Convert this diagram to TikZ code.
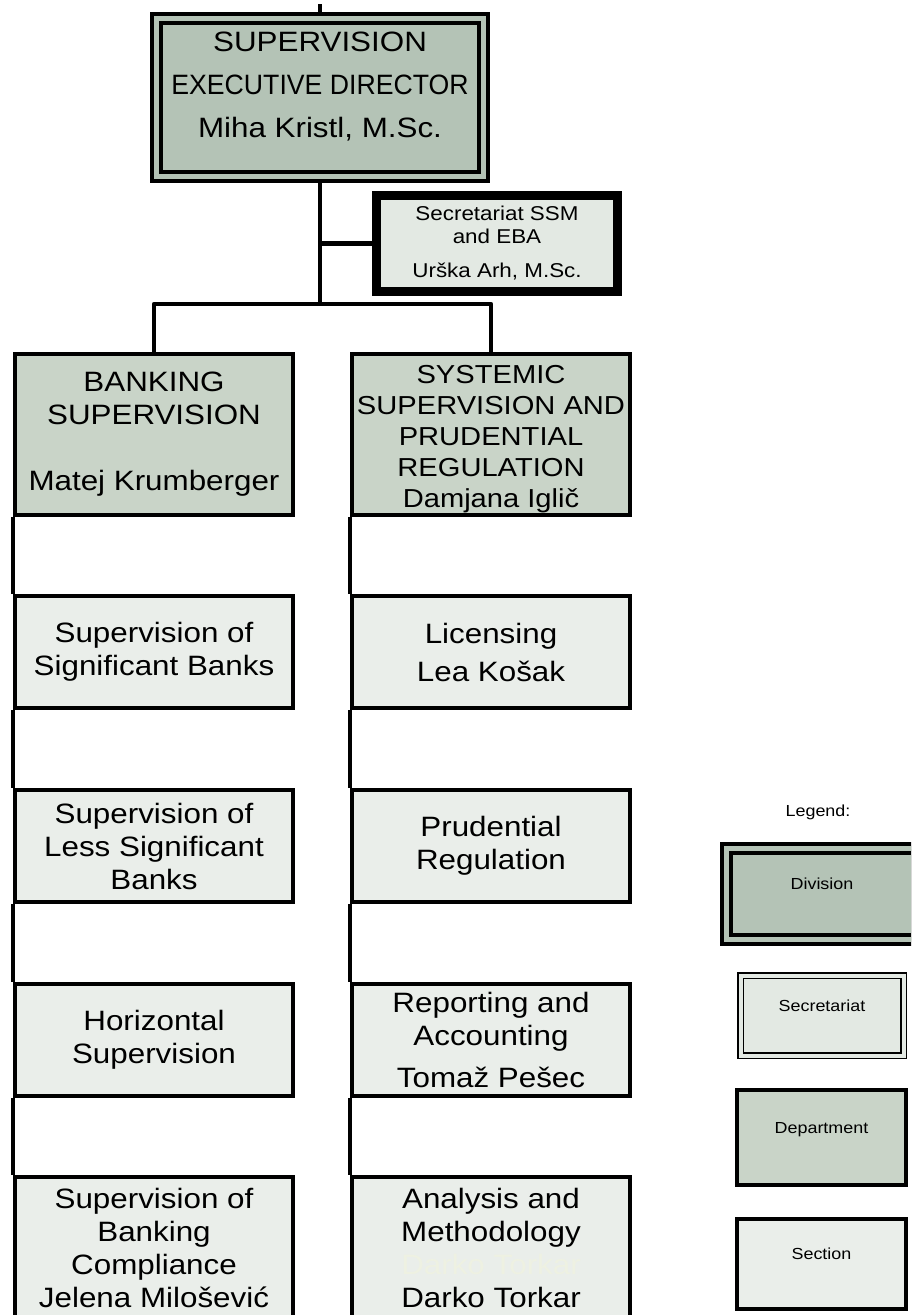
\documentclass[tikz,border=0pt]{standalone}
\usepackage{fontspec}
\setmainfont[FakeStretch=1.12]{Liberation Sans}
\usepackage{graphicx}
\usetikzlibrary{backgrounds}
\definecolor{divgray}{RGB}{180,195,182}
\definecolor{deptgray}{RGB}{201,212,200}
\definecolor{sectgray}{RGB}{234,238,234}
\definecolor{secrgray}{RGB}{227,233,227}
\definecolor{ghostgray}{RGB}{238,241,226}
\newcommand{\dirfont}{\fontsize{28}{43}\selectfont}
\newcommand{\boxfont}{\fontsize{28}{33}\selectfont}
\newcommand{\sysfont}{\fontsize{26}{31}\selectfont}
\newcommand{\secfont}{\fontsize{20}{23}\selectfont}
\newcommand{\legfont}{\fontsize{16}{19}\selectfont}
\tikzset{
    conn/.style={line width=4.5pt, line join=round},
    box/.style={rectangle, draw, line width=4pt, align=center, inner sep=2pt},
    divbox/.style={box, double=divgray, double distance=5pt, fill=divgray},
    secbox/.style={box, line width=9pt, fill=secrgray},
    deptbox/.style={box, fill=deptgray},
    sectbox/.style={box, fill=sectgray},
    colbox/.style={minimum width=278pt, minimum height=112pt, font=\boxfont},
    legbox/.style={font=\legfont, text depth=20pt}
}

\begin{document}
\begin{tikzpicture}[x=1pt,y=-1pt]
            \useasboundingbox (0,0) rectangle (911,1315);
            \clip (0,0) rectangle (911,1315);
            \coordinate (top) at (320,4);
            \coordinate (bus) at (320,304);
            \node[divbox, minimum width=327pt, minimum height=158pt,
                  label={[font=\dirfont, align=center, yshift=11pt]center:{SUPERVISION\\\scalebox{0.85}[1]{EXECUTIVE DIRECTOR}\\Miha Kristl, M.Sc.}}]
                 (dir) at (320,97.5) {};
            \node[secbox, minimum width=241pt, minimum height=96pt, font=\secfont] (sec) at (497,243.5)
                 {Secretariat SSM\\and EBA\\[11pt]Urška Arh, M.Sc.};
            \node[deptbox, colbox, minimum height=161pt] (bank) at (154,434.5) {BANKING\\SUPERVISION\\[33pt]Matej Krumberger};
            \node[deptbox, colbox, minimum height=161pt,
                  label={[font=\sysfont, align=center, yshift=-5pt]center:{SYSTEMIC\\SUPERVISION AND\\PRUDENTIAL\\REGULATION\\Damjana Iglič}}]
                 (sys) at (491,434.5) {};
            \node[sectbox, colbox] (sig)  at (154,652)  {Supervision of\\Significant Banks};
            \node[sectbox, colbox] (lsig) at (154,846)  {Supervision of\\Less Significant\\Banks};
            \node[sectbox, colbox] (hor)  at (154,1040) {Horizontal\\Supervision};
            \node[sectbox, colbox, minimum height=141pt] (cmp) at (154,1247.5) {Supervision of\\Banking\\Compliance\\Jelena Milošević};
            \node[sectbox, colbox] (lic)  at (491,652)  {Licensing\\[5pt]Lea Košak};
            \node[sectbox, colbox] (prud) at (491,846)  {Prudential\\Regulation};
            \node[sectbox, colbox] (rep)  at (491,1040) {Reporting and\\Accounting\\[9pt]Tomaž Pešec};
            \node[sectbox, colbox, minimum height=141pt] (ana) at (491,1247.5)
                 {Analysis and\\Methodology\\\textcolor{ghostgray}{Darko Torkar}\\Darko Torkar};
            \node[font=\legfont] (lgtitle) at (818,812) {Legend:};
            \node[divbox, legbox, minimum width=191pt, minimum height=91pt] (lgdiv) at (822,894) {Division};
            \node[box, legbox, line width=1.5pt, double=secrgray, double distance=4pt, fill=secrgray,
                  minimum width=163pt, minimum height=80pt] (lgsec) at (822,1015.5) {Secretariat};
            \node[deptbox, legbox, minimum width=169pt, minimum height=95pt] (lgdep) at (821.5,1137.5) {Department};
            \node[sectbox, legbox, minimum width=169pt, minimum height=90pt] (lgsect) at (821.5,1264) {Section};
        \begin{scope}[on background layer]
            \draw[conn] (top) -- (dir.north);
            \draw[conn] (dir.south) -- (bus);
            \draw[conn] (dir.south |- sec.west) -- (sec.west);
            \draw[conn] (bank.north) |- (bus) -| (sys.north);
            \foreach \a/\b in {bank/sig, sig/lsig, lsig/hor, hor/cmp, sys/lic, lic/prud, prud/rep, rep/ana}
                \draw[conn] (\a.south west) -- (\b.north west);
        \end{scope}
\end{tikzpicture}
\end{document}
